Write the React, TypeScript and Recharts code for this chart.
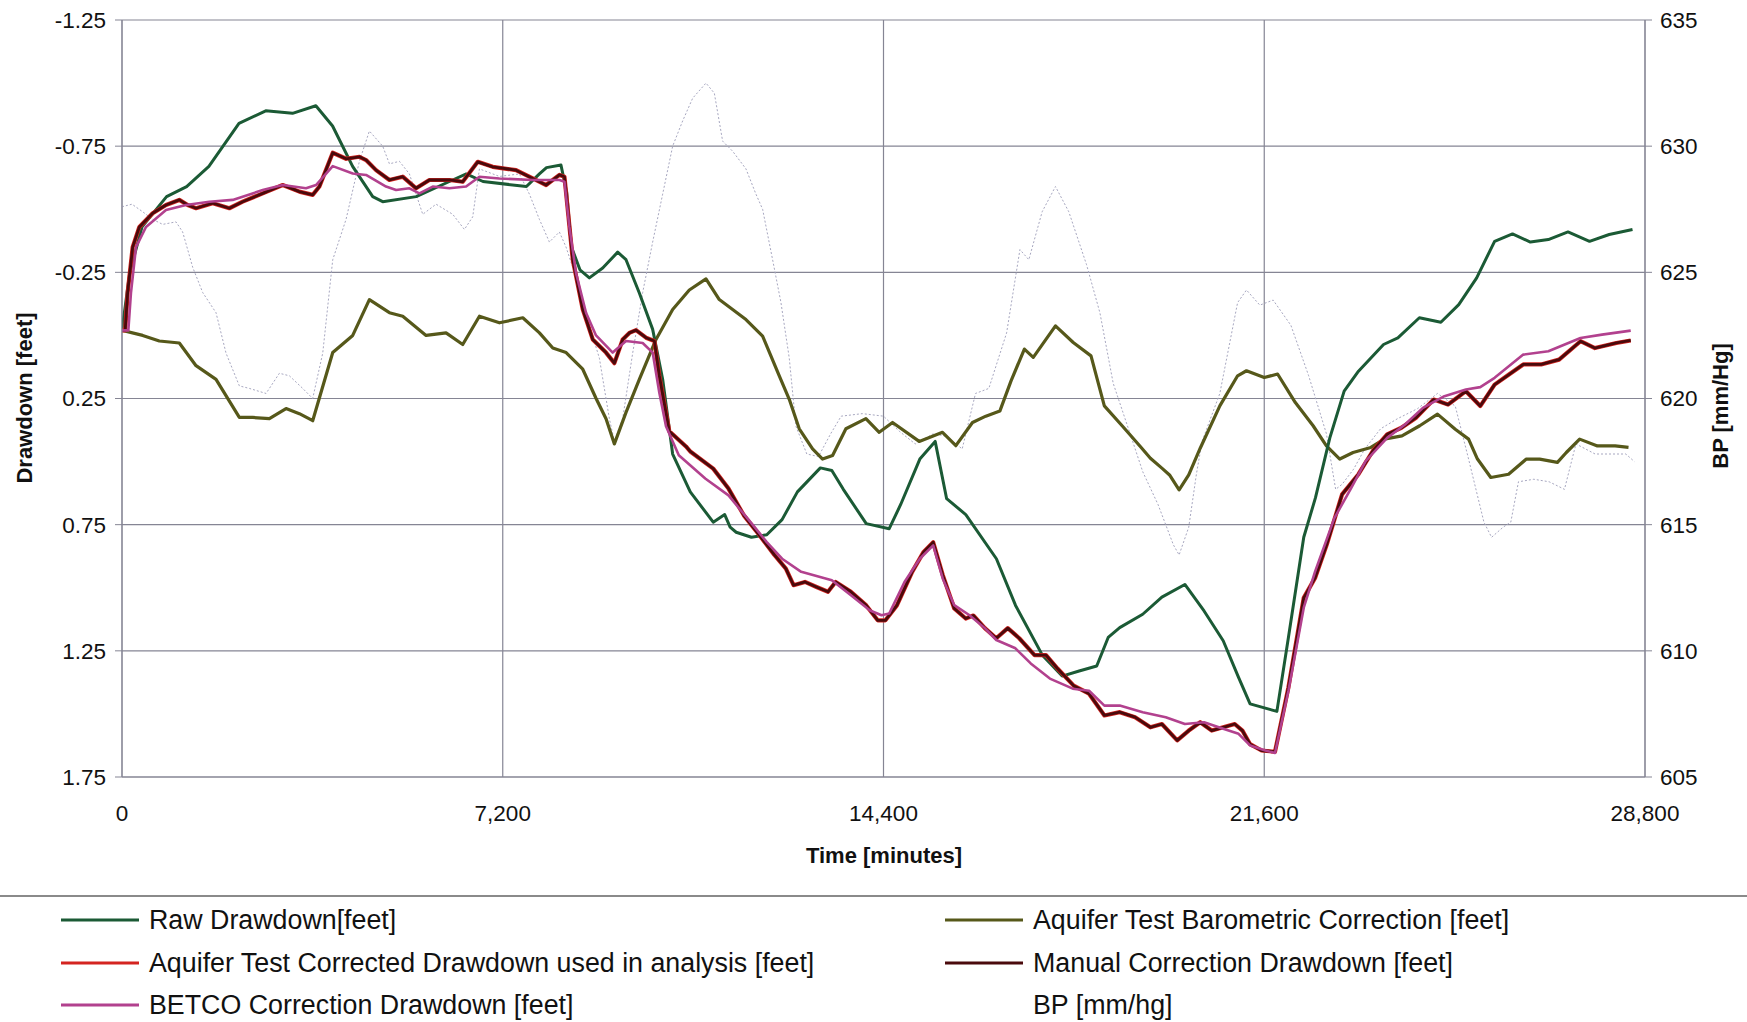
import { LineChart, Line, XAxis, YAxis, CartesianGrid } from "recharts";

const TIME_TICKS = [0, 7200, 14400, 21600, 28800];
const DRAWDOWN_TICKS = [-1.25, -0.75, -0.25, 0.25, 0.75, 1.25, 1.75];
const BP_TICKS = [605, 610, 615, 620, 625, 630, 635];

// [minutes, feet]
const rawDrawdown = [
  [0, -0.02], [147, -0.25], [379, -0.43], [843, -0.55], [1222, -0.59], [1643, -0.67],
  [2212, -0.84], [2718, -0.89], [3224, -0.88], [3666, -0.91], [3982, -0.83], [4361, -0.67],
  [4741, -0.55], [4930, -0.53], [5563, -0.55], [6191, -0.61], [6511, -0.64], [6826, -0.61],
  [7648, -0.59], [7893, -0.64], [8027, -0.665], [8301, -0.675], [8407, -0.57], [8500, -0.35],
  [8660, -0.26], [8838, -0.228], [9090, -0.267], [9374, -0.33], [9531, -0.3], [9783, -0.168],
  [10035, -0.024], [10224, 0.174], [10413, 0.47], [10746, 0.62], [11180, 0.74], [11397, 0.71],
  [11500, 0.76], [11614, 0.78], [11903, 0.8], [12193, 0.79], [12482, 0.73], [12772, 0.62],
  [13206, 0.525], [13423, 0.535], [13640, 0.61], [14074, 0.746], [14508, 0.766], [14725, 0.67],
  [15087, 0.49], [15377, 0.42], [15594, 0.647], [15956, 0.71], [16535, 0.885], [16897, 1.07],
  [17404, 1.267], [17779, 1.35], [18100, 1.33], [18432, 1.31], [18649, 1.197], [18867, 1.158],
  [19302, 1.105], [19664, 1.037], [20099, 0.987], [20462, 1.092], [20824, 1.21], [21114, 1.355],
  [21332, 1.46], [21839, 1.49], [22057, 1.197], [22347, 0.8], [22569, 0.643], [22840, 0.406],
  [23111, 0.221], [23382, 0.142], [23856, 0.036], [24127, 0.01], [24533, -0.07], [24940, -0.052],
  [25278, -0.122], [25617, -0.228], [25956, -0.373], [26294, -0.402], [26633, -0.37],
  [26972, -0.38], [27344, -0.41], [27751, -0.373], [28123, -0.4], [28564, -0.42],
];

const barometricCorrection = [
  [0, -0.02], [391, 0.0], [706, 0.022], [1084, 0.03], [1400, 0.12], [1778, 0.174], [2219, 0.325],
  [2472, 0.325], [2787, 0.33], [3102, 0.29], [3354, 0.31], [3606, 0.338], [3985, 0.068],
  [4363, 0.0], [4678, -0.142], [5057, -0.09], [5309, -0.076], [5750, 0.0], [6128, -0.01],
  [6443, 0.036], [6759, -0.076], [7137, -0.05], [7579, -0.07], [7894, -0.01], [8146, 0.05],
  [8398, 0.068], [8713, 0.134], [8965, 0.25], [9153, 0.33], [9311, 0.43], [9531, 0.305],
  [9783, 0.174], [10098, 0.016], [10413, -0.103], [10728, -0.18], [11043, -0.224],
  [11295, -0.142], [11547, -0.103], [11799, -0.063], [12114, 0.003], [12429, 0.16],
  [12618, 0.253], [12807, 0.37], [13059, 0.45], [13248, 0.49], [13437, 0.476], [13689, 0.37],
  [14067, 0.33], [14319, 0.384], [14571, 0.345], [15075, 0.42], [15327, 0.4], [15516, 0.384],
  [15768, 0.437], [16083, 0.345], [16335, 0.32], [16600, 0.3], [16812, 0.18], [17064, 0.054],
  [17232, 0.087], [17652, -0.038], [17988, 0.028], [18324, 0.081], [18576, 0.279],
  [18912, 0.358], [19248, 0.438], [19447, 0.487], [19664, 0.526], [19809, 0.553],
  [19990, 0.612], [20172, 0.553], [20389, 0.447], [20760, 0.279], [21096, 0.16], [21264, 0.14],
  [21600, 0.167], [21852, 0.153], [22188, 0.266], [22524, 0.358], [22776, 0.438], [23028, 0.49],
  [23280, 0.464], [23616, 0.444], [23868, 0.411], [24204, 0.398], [24540, 0.358],
  [24876, 0.312], [25212, 0.372], [25464, 0.411], [25632, 0.49], [25884, 0.563], [26220, 0.55],
  [26556, 0.49], [26808, 0.49], [27144, 0.503], [27312, 0.464], [27564, 0.411], [27900, 0.438],
  [28236, 0.438], [28488, 0.444],
];

// the Aquifer Test and manual corrections trace on top of each other
const correctedDrawdown = [
  [0, -0.02], [60, -0.02], [107, -0.17], [202, -0.35], [328, -0.43], [580, -0.484],
  [832, -0.517], [1084, -0.537], [1242, -0.517], [1400, -0.504], [1715, -0.524], [2030, -0.504],
  [2282, -0.53], [2661, -0.563], [3039, -0.596], [3354, -0.57], [3606, -0.557], [3733, -0.59],
  [3985, -0.724], [4237, -0.7], [4489, -0.708], [4615, -0.695], [4804, -0.655], [5057, -0.616],
  [5309, -0.629], [5561, -0.583], [5813, -0.616], [6191, -0.616], [6443, -0.609], [6727, -0.688],
  [7011, -0.668], [7452, -0.655], [7768, -0.622], [8020, -0.596], [8272, -0.636], [8367, -0.629],
  [8524, -0.3], [8713, -0.103], [8902, 0.016], [9153, 0.068], [9311, 0.11], [9468, 0.016],
  [9594, -0.01], [9720, -0.021], [9909, 0.009], [10067, 0.022], [10161, 0.16], [10350, 0.38],
  [10665, 0.44], [10746, 0.46], [11180, 0.528], [11469, 0.607], [11759, 0.713], [12048, 0.79],
  [12337, 0.87], [12554, 0.924], [12699, 0.99], [12916, 0.977], [13133, 0.997], [13350, 1.016],
  [13495, 0.977], [13784, 1.016], [14074, 1.07], [14291, 1.129], [14436, 1.129], [14653, 1.07],
  [14942, 0.937], [15159, 0.858], [15340, 0.82], [15521, 0.95], [15738, 1.082], [15955, 1.122],
  [16099, 1.11], [16316, 1.16], [16533, 1.2], [16750, 1.16], [16967, 1.2], [17256, 1.267],
  [17473, 1.267], [17690, 1.32], [17996, 1.388], [18287, 1.42], [18577, 1.506], [18867, 1.493],
  [19157, 1.513], [19447, 1.553], [19664, 1.54], [19954, 1.605], [20172, 1.566], [20389, 1.533],
  [20607, 1.566], [20824, 1.553], [21042, 1.54], [21187, 1.566], [21332, 1.62], [21549, 1.645],
  [21803, 1.65], [22057, 1.395], [22347, 1.04], [22564, 0.96], [22782, 0.829], [23072, 0.63],
  [23382, 0.55], [23653, 0.458], [23924, 0.392], [24194, 0.366], [24465, 0.327], [24804, 0.254],
  [25075, 0.274], [25414, 0.221], [25685, 0.28], [25956, 0.195], [26227, 0.155], [26498, 0.115],
  [26836, 0.115], [27175, 0.096], [27581, 0.023], [27852, 0.05], [28259, 0.03], [28530, 0.02],
];
const manualCorrection = correctedDrawdown;

const betcoCorrection = [
  [0, -0.02], [120, -0.02], [170, -0.17], [265, -0.35], [454, -0.43], [832, -0.497],
  [1210, -0.517], [1652, -0.53], [2093, -0.537], [2661, -0.576], [3039, -0.596], [3480, -0.583],
  [3669, -0.596], [3985, -0.671], [4363, -0.642], [4615, -0.636], [4993, -0.59], [5183, -0.576],
  [5435, -0.583], [5624, -0.563], [5876, -0.59], [6191, -0.583], [6507, -0.59], [6759, -0.629],
  [7137, -0.622], [7768, -0.616], [8272, -0.616], [8367, -0.609], [8460, -0.43], [8586, -0.247],
  [8775, -0.09], [8964, 0.0], [9279, 0.068], [9531, 0.022], [9846, 0.03], [10035, 0.068],
  [10161, 0.227], [10287, 0.36], [10529, 0.475], [11035, 0.568], [11469, 0.634], [11831, 0.726],
  [12193, 0.819], [12482, 0.885], [12844, 0.937], [13423, 0.97], [13784, 1.03], [14146, 1.09],
  [14363, 1.109], [14508, 1.102], [14797, 0.977], [15087, 0.885], [15340, 0.832], [15521, 0.964],
  [15738, 1.069], [16027, 1.109], [16316, 1.16], [16533, 1.207], [16895, 1.24], [17184, 1.3],
  [17546, 1.36], [17979, 1.4], [18287, 1.408], [18577, 1.467], [18867, 1.467], [19302, 1.493],
  [19737, 1.513], [20099, 1.54], [20462, 1.533], [20824, 1.559], [21114, 1.579], [21332, 1.625],
  [21622, 1.645], [21803, 1.655], [22057, 1.408], [22347, 1.079], [22564, 0.934], [22926, 0.724],
  [23246, 0.604], [23517, 0.498], [23924, 0.406], [24262, 0.353], [24600, 0.287], [25007, 0.241],
  [25414, 0.214], [25685, 0.205], [25956, 0.168], [26498, 0.076], [26972, 0.063], [27581, 0.01],
  [27987, -0.003], [28530, -0.019],
];

// [minutes, mm/Hg]
const barometricPressure = [
  [0, 627.6], [189, 627.7], [391, 627.4], [580, 627.1], [769, 626.9], [1021, 627.0],
  [1147, 626.6], [1337, 625.2], [1526, 624.2], [1778, 623.4], [1967, 621.8], [2219, 620.5],
  [2408, 620.4], [2724, 620.2], [2976, 621.0], [3165, 620.9], [3417, 620.4], [3606, 620.0],
  [3796, 621.8], [3985, 625.5], [4237, 627.1], [4489, 629.4], [4678, 630.6], [4930, 630.0],
  [5057, 629.3], [5246, 629.4], [5435, 628.9], [5687, 627.3], [5939, 627.7], [6254, 627.3],
  [6475, 626.7], [6632, 627.2], [6759, 629.1], [7137, 628.8], [7515, 628.9], [7704, 628.1],
  [7893, 627.1], [8082, 626.2], [8271, 626.6], [8397, 626.0], [8649, 624.4], [8838, 622.9],
  [9027, 621.6], [9216, 619.2], [9311, 618.3], [9468, 619.2], [9657, 621.8], [9846, 624.2],
  [10035, 626.2], [10224, 628.1], [10413, 630.0], [10602, 631.0], [10791, 631.9], [11043, 632.5],
  [11201, 632.1], [11358, 630.2], [11547, 629.8], [11799, 629.1], [11988, 628.1], [12114, 627.5],
  [12303, 625.5], [12461, 623.8], [12618, 621.6], [12744, 618.9], [12950, 617.8], [13170, 617.7],
  [13400, 618.6], [13600, 619.3], [14000, 619.4], [14400, 619.3], [14700, 618.7], [15000, 618.2],
  [15340, 618.6], [15600, 618.5], [15888, 618.0], [16140, 620.2], [16392, 620.4], [16728, 622.6],
  [16980, 625.9], [17148, 625.5], [17400, 627.4], [17652, 628.4], [17904, 627.4], [18240, 625.3],
  [18492, 623.4], [18744, 620.6], [19080, 618.5], [19302, 617.1], [19591, 615.8], [19882, 614.2],
  [19990, 613.8], [20172, 614.9], [20317, 617.0], [20424, 618.3], [20760, 620.2], [21096, 623.8],
  [21264, 624.3], [21516, 623.7], [21768, 623.9], [22104, 622.9], [22440, 620.9], [22776, 618.6],
  [22950, 616.4], [23072, 616.6], [23290, 617.2], [23500, 618.0], [23800, 618.8], [24120, 619.2],
  [24500, 619.6], [24876, 620.2], [25212, 619.7], [25464, 617.6], [25754, 615.1], [25899, 614.5],
  [26117, 614.9], [26262, 615.1], [26407, 616.7], [26697, 616.8], [26987, 616.7], [27277, 616.4],
  [27494, 618.2], [27857, 617.8], [28437, 617.8], [28600, 617.5],
];

const toPoints = (rows: number[][]) => rows.map(([t, v]) => ({ t, v }));

const FONT = '"Liberation Sans", Arial, sans-serif';
const GRID = "#858594";

const SERIES = [
  { id: "bp", name: "BP [mm/hg]", rows: barometricPressure, axis: "bp", color: "#a7a7c0", width: 1, dash: "2 2" },
  { id: "baro", name: "Aquifer Test Barometric Correction [feet]", rows: barometricCorrection, axis: "dd", color: "#56581a", width: 3.2 },
  { id: "raw", name: "Raw Drawdown[feet]", rows: rawDrawdown, axis: "dd", color: "#1b5a35", width: 3 },
  { id: "aq", name: "Aquifer Test Corrected Drawdown used in analysis [feet]", rows: correctedDrawdown, axis: "dd", color: "#d42420", width: 4.2 },
  { id: "manual", name: "Manual Correction Drawdown [feet]", rows: manualCorrection, axis: "dd", color: "#4a0a0c", width: 2.8 },
  { id: "betco", name: "BETCO Correction Drawdown [feet]", rows: betcoCorrection, axis: "dd", color: "#b2418e", width: 2.6 },
];

// legend is laid out in two columns, row by row
const LEGEND_ORDER = ["raw", "baro", "aq", "manual", "betco", "bp"];

const tickStyle = { fontSize: 22.5, fill: "#111", fontFamily: FONT };

export default function App() {
  return (
    <div style={{ position: "absolute", left: 0, top: 0, width: 1747, height: 1022, background: "#fff", fontFamily: FONT, overflow: "hidden" }}>
      <LineChart width={1747} height={880} margin={{ top: 20, right: 42, bottom: 43, left: 42 }}>
        <CartesianGrid yAxisId="dd" stroke={GRID} strokeWidth={1.2} />
        <XAxis
          dataKey="t"
          type="number"
          domain={[0, 28800]}
          ticks={TIME_TICKS}
          interval={0}
          allowDataOverflow
          height={60}
          tickSize={0}
          tickMargin={28}
          tick={tickStyle}
          stroke={GRID}
          tickFormatter={(v) => Number(v).toLocaleString("en-US")}
        />
        <YAxis
          yAxisId="dd"
          type="number"
          reversed
          domain={[-1.25, 1.75]}
          ticks={DRAWDOWN_TICKS}
          interval={0}
          allowDataOverflow
          width={80}
          tickSize={7}
          tickMargin={9}
          tick={tickStyle}
          stroke={GRID}
          tickFormatter={(v) => Number(v).toFixed(2)}
        />
        <YAxis
          yAxisId="bp"
          orientation="right"
          type="number"
          domain={[605, 635]}
          ticks={BP_TICKS}
          interval={0}
          allowDataOverflow
          width={60}
          tickSize={7}
          tickMargin={8}
          tick={tickStyle}
          stroke={GRID}
        />
        {SERIES.map((s) => (
          <Line
            key={s.id}
            yAxisId={s.axis}
            data={toPoints(s.rows)}
            dataKey="v"
            name={s.name}
            type="linear"
            stroke={s.color}
            strokeWidth={s.width}
            strokeDasharray={s.dash}
            strokeLinejoin="round"
            dot={false}
            activeDot={false}
            isAnimationActive={false}
          />
        ))}
      </LineChart>

      <div style={{ position: "absolute", left: 25, top: 398, transform: "translate(-50%, -50%) rotate(-90deg)", fontSize: 22, fontWeight: "bold", whiteSpace: "nowrap", color: "#111" }}>
        Drawdown [feet]
      </div>
      <div style={{ position: "absolute", left: 1721, top: 406, transform: "translate(-50%, -50%) rotate(-90deg)", fontSize: 22, fontWeight: "bold", whiteSpace: "nowrap", color: "#111" }}>
        BP [mm/Hg]
      </div>
      <div style={{ position: "absolute", left: 884, top: 856, transform: "translate(-50%, -50%)", fontSize: 22, fontWeight: "bold", whiteSpace: "nowrap", color: "#111" }}>
        Time [minutes]
      </div>

      <div style={{ position: "absolute", left: 0, top: 895, width: 1747, height: 2, background: "#8a8a8a" }} />
      {LEGEND_ORDER.map((id, i) => {
        const s = SERIES.find((d) => d.id === id)!;
        const col = i % 2;
        const row = Math.floor(i / 2);
        return (
          <div
            key={id}
            style={{ position: "absolute", left: col === 0 ? 61 : 945, top: 920 + row * 42.5, transform: "translateY(-50%)", display: "flex", alignItems: "center", whiteSpace: "nowrap" }}
          >
            <svg width={78} height={6} style={{ marginRight: 10 }}>
              <line x1={0} y1={3} x2={78} y2={3} stroke={s.color} strokeWidth={s.id === "bp" ? 1 : 3} strokeDasharray={s.dash} opacity={s.id === "bp" ? 0 : 1} />
            </svg>
            <span style={{ fontSize: 26.8, color: "#111", lineHeight: "30px" }}>{s.name}</span>
          </div>
        );
      })}
    </div>
  );
}
